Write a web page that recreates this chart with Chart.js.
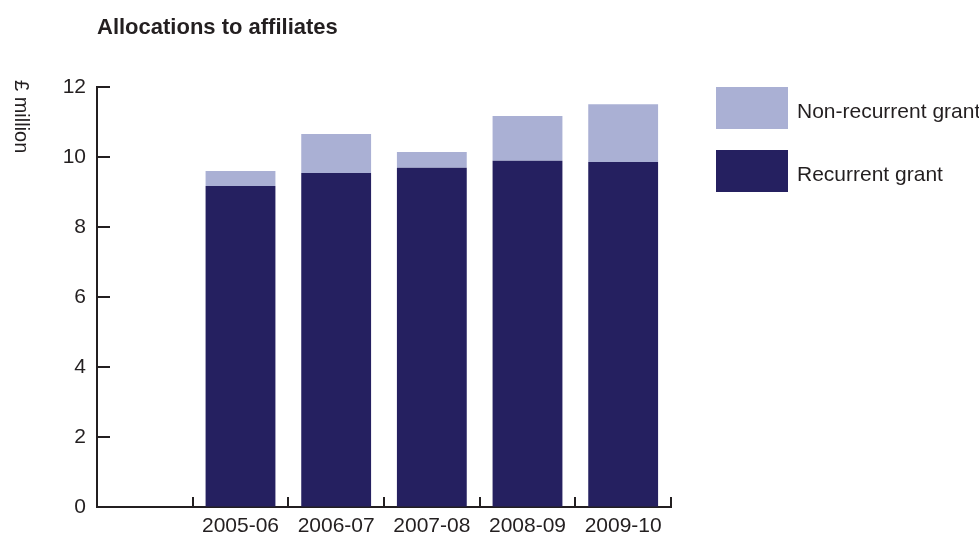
<!DOCTYPE html>
<html>
<head>
<meta charset="utf-8">
<script src="https://cdn.jsdelivr.net/npm/chart.js@4"></script>
<style>
  html, body { margin: 0; padding: 0; background: #fff; }
  body { width: 979px; height: 534px; position: relative; overflow: hidden;
         font-family: "Liberation Sans", Arial, sans-serif; color: #231f20; }
  #wrap { position: absolute; left: 0; top: 0; width: 979px; height: 534px; }
  .title { position: absolute; left: 97px; top: 14px; font-size: 22px; font-weight: bold; white-space: nowrap; }
  .ylabel { position: absolute; left: 10px; top: 80px; font-size: 20px; writing-mode: vertical-rl; white-space: nowrap; }
  .legend { position: absolute; left: 716px; top: 87px; }
  .legend .item { position: relative; height: 42px; margin-bottom: 21px; }
  .legend .box { position: absolute; left: 0; top: 0; width: 72px; height: 42px; }
  .legend .txt { position: absolute; left: 81px; top: 12px; font-size: 21px; white-space: nowrap; }
</style>
</head>
<body>
<div id="wrap"><canvas id="graph" width="979" height="534"></canvas></div>
<div class="title">Allocations to affiliates</div>
<div class="ylabel">£ million</div>
<div class="legend" id="legend"></div>
<script>
// 年度（先頭は空のカテゴリ）
const years = ["", "2005-06", "2006-07", "2007-08", "2008-09", "2009-10"];
// Recurrent grant (£ million)
const recurrent = [null, 9.17, 9.54, 9.69, 9.89, 9.86];
// Non-recurrent grant (£ million)
const nonRecurrent = [null, 0.43, 1.12, 0.45, 1.28, 1.65];
const yTicks = [0, 2, 4, 6, 8, 10, 12];

const darkColor = "#252060";
const lightColor = "#aab0d4";
const inkColor = "#231f20";

// 凡例（HTML）
const legendItems = [
  { label: "Non-recurrent grant", color: lightColor },
  { label: "Recurrent grant", color: darkColor },
];
document.getElementById("legend").innerHTML = legendItems
  .map((item) => `<div class="item"><div class="box" style="background:${item.color}"></div><div class="txt">${item.label}</div></div>`)
  .join("");

// 内向きの目盛り線
const innerTicks = {
  id: "innerTicks",
  afterDraw(chart) {
    const ctx = chart.ctx;
    const x = chart.scales.x;
    const y = chart.scales.y;
    ctx.save();
    ctx.strokeStyle = inkColor;
    ctx.lineWidth = 2;
    ctx.beginPath();
    yTicks.forEach((v) => {
      const py = Math.round(y.getPixelForValue(v));
      ctx.moveTo(x.left, py);
      ctx.lineTo(x.left + 13, py);
    });
    const w = (x.right - x.left) / years.length;
    years.forEach((_, i) => {
      const px = Math.round(x.getPixelForValue(i) + w / 2);
      ctx.moveTo(px, y.bottom);
      ctx.lineTo(px, y.bottom - 10);
    });
    ctx.stroke();
    ctx.restore();
  },
};

new Chart(document.getElementById("graph").getContext("2d"), {
  type: "bar",
  data: {
    labels: years,
    datasets: [
      {
        label: "Recurrent grant",
        data: recurrent,
        backgroundColor: darkColor,
        borderWidth: 0,
        categoryPercentage: 1,
        barPercentage: 0.73,
      },
      {
        label: "Non-recurrent grant",
        data: nonRecurrent,
        backgroundColor: lightColor,
        borderWidth: 0,
        categoryPercentage: 1,
        barPercentage: 0.73,
      },
    ],
  },
  options: {
    responsive: false,
    animation: false,
    layout: { padding: { left: 0, right: 308, top: 87, bottom: 0 } },
    scales: {
      x: {
        stacked: true,
        offset: true,
        grid: { display: true, drawOnChartArea: false, drawTicks: false, color: "transparent" },
        border: { display: true, color: inkColor, width: 2 },
        ticks: {
          color: inkColor,
          font: { family: "'Liberation Sans', Arial, sans-serif", size: 21 },
          padding: 7,
          maxRotation: 0,
          autoSkip: false,
        },
        afterFit(scale) { scale.height = 27; },
      },
      y: {
        stacked: true,
        min: 0,
        max: 12,
        grid: { display: true, drawOnChartArea: false, drawTicks: false, color: "transparent" },
        border: { display: true, color: inkColor, width: 2 },
        ticks: {
          stepSize: 2,
          color: inkColor,
          font: { family: "'Liberation Sans', Arial, sans-serif", size: 21 },
          padding: 11,
        },
        afterFit(scale) { scale.width = 97; },
      },
    },
    plugins: {
      legend: { display: false },
      tooltip: { enabled: false },
    },
  },
  plugins: [innerTicks],
});
</script>
</body>
</html>
